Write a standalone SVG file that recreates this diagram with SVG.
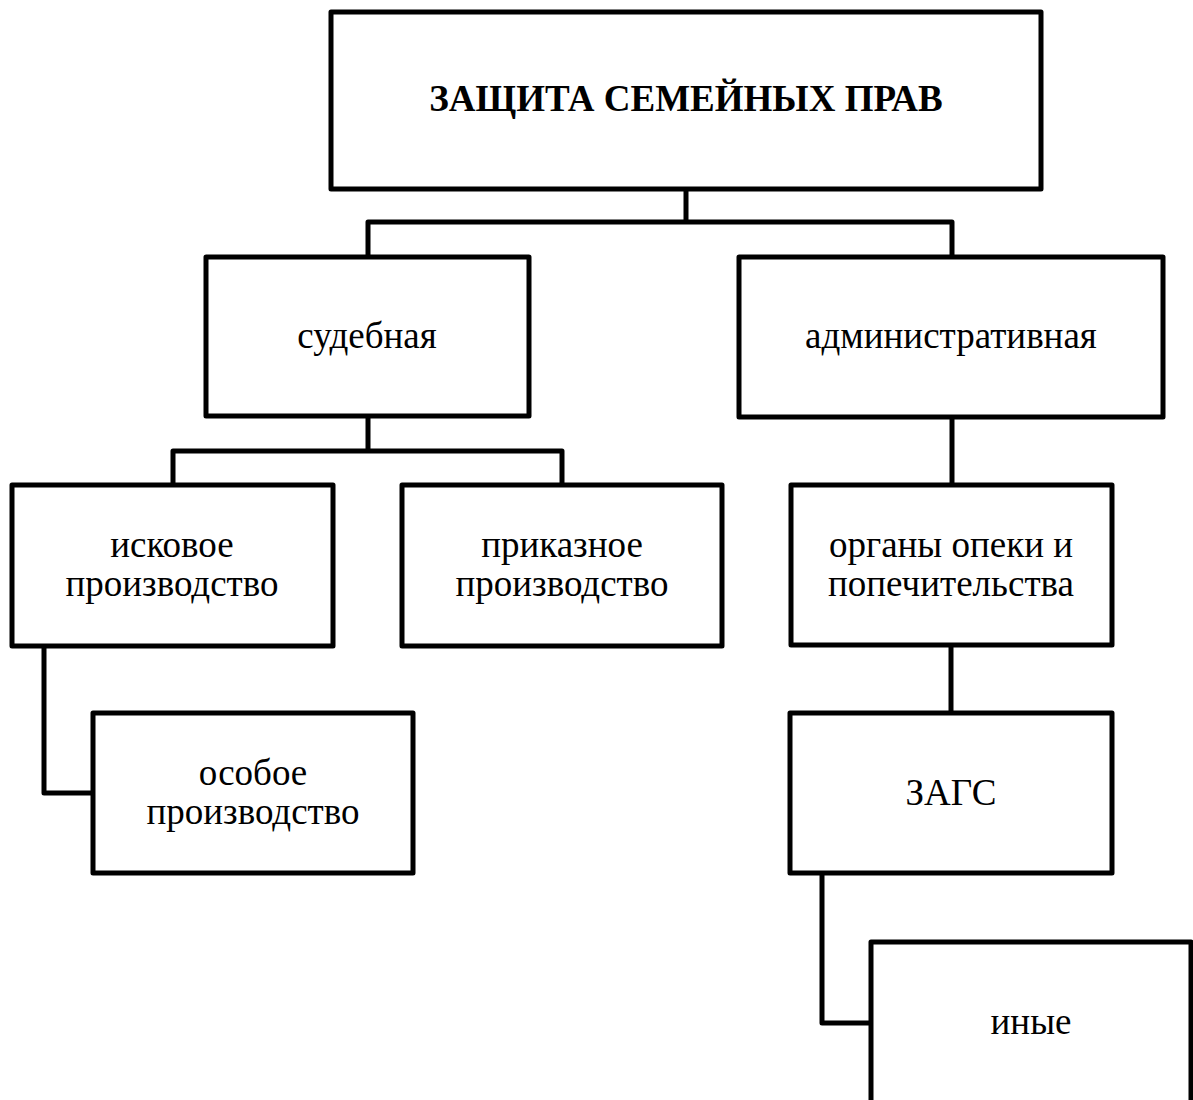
<svg xmlns="http://www.w3.org/2000/svg" width="1193" height="1100" viewBox="0 0 1193 1100">
<style>
.box{fill:#fff;stroke:#000;stroke-width:5;stroke-linejoin:round}
.c{fill:none;stroke:#000;stroke-width:5;stroke-linejoin:round}
.t{font-family:"Liberation Serif","Times New Roman",serif;font-size:37px;fill:#000;text-anchor:middle}
.b{font-weight:bold}
</style>
<rect width="1193" height="1100" fill="#fff"/>
<g id="connectors">
<path class="c" d="M686 189 V222 M368 257 V222 H952 V257"/>
<path class="c" d="M368 416 V451 M173 485 V451 H562 V485"/>
<path class="c" d="M44 646 V793 H93"/>
<path class="c" d="M952 417 V485"/>
<path class="c" d="M951 645 V713"/>
<path class="c" d="M822 873 V1023 H871"/>
</g>
<g id="n-root"><rect class="box" x="331" y="12" width="710" height="177"/><text class="t b" x="686" y="111">ЗАЩИТА СЕМЕЙНЫХ ПРАВ</text></g>
<g id="n-court"><rect class="box" x="206" y="257" width="323" height="159"/><text class="t" x="367" y="348">судебная</text></g>
<g id="n-admin"><rect class="box" x="739" y="257" width="424" height="160"/><text class="t" x="951" y="348">административная</text></g>
<g id="n-claim"><rect class="box" x="12" y="485" width="321" height="161"/><text class="t" x="172" y="557">исковое</text><text class="t" x="172" y="596">производство</text></g>
<g id="n-order"><rect class="box" x="402" y="485" width="320" height="161"/><text class="t" x="562" y="557">приказное</text><text class="t" x="562" y="596">производство</text></g>
<g id="n-special"><rect class="box" x="93" y="713" width="320" height="160"/><text class="t" x="253" y="785">особое</text><text class="t" x="253" y="824">производство</text></g>
<g id="n-guard"><rect class="box" x="791" y="485" width="321" height="160"/><text class="t" x="951" y="557">органы опеки и</text><text class="t" x="951" y="596">попечительства</text></g>
<g id="n-zags"><rect class="box" x="790" y="713" width="322" height="160"/><text class="t" x="951" y="805">ЗАГС</text></g>
<g id="n-other"><rect class="box" x="871" y="942" width="320" height="170"/><text class="t" x="1031" y="1034">иные</text></g>
</svg>
